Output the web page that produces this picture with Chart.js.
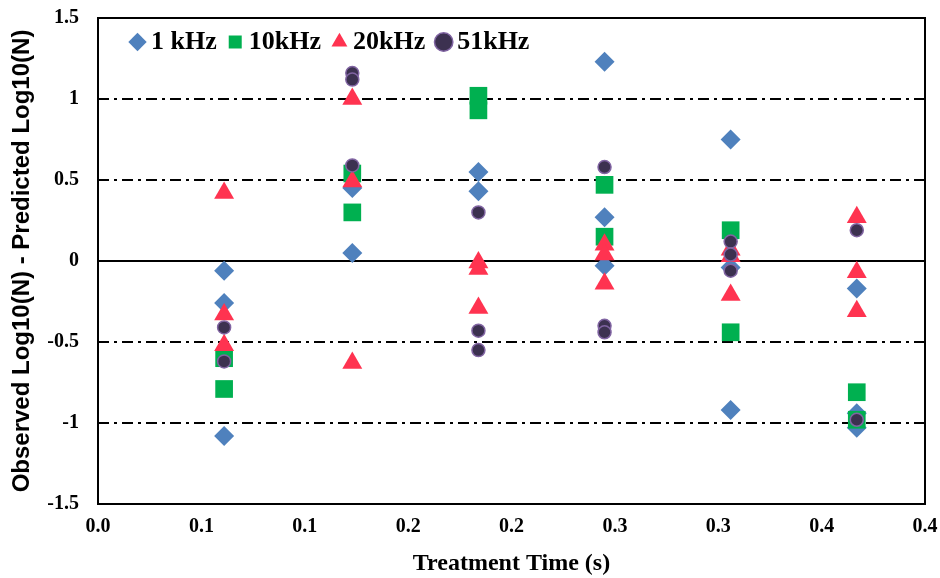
<!DOCTYPE html>
<html>
<head>
<meta charset="utf-8">
<script src="https://cdn.jsdelivr.net/npm/chart.js@4/dist/chart.umd.min.js"></script>
<style>
  html, body { margin: 0; padding: 0; background: #fff; }
  #wrap { width: 940px; height: 578px; }
</style>
</head>
<body>
<div id="wrap"><canvas id="scatterChart" width="940" height="578"></canvas></div>
<script>
// treatment times (x) where the points sit
const times = [0.061, 0.123, 0.184, 0.245, 0.306, 0.367];

// residuals per time, one list for each frequency
const khz1 = [[-0.06, -0.26, -1.08], [0.45, 0.05], [0.55, 0.43], [1.23, 0.27, -0.03], [0.75, -0.04, -0.92], [-0.17, -0.94, -1.03]];
const khz10 = [[-0.60, -0.79], [0.54, 0.30], [1.02, 0.93], [0.47, 0.15], [0.19, -0.44], [-0.81, -0.98]];
const khz20 = [[0.42, -0.33, -0.52], [1.00, 0.49, -0.63], [-0.01, -0.05, -0.29], [0.10, 0.04, -0.14], [0.07, 0.03, -0.21], [0.27, -0.07, -0.31]];
const khz51 = [[-0.41, -0.62], [1.16, 1.12, 0.59], [0.30, -0.43, -0.55], [0.58, -0.40, -0.44], [0.12, 0.04, -0.06], [0.19, -0.98]];

const seriesNames = ["1 kHz", "10kHz", "20kHz", "51kHz"];
const xTickLabels = ["0.0", "0.1", "0.1", "0.2", "0.2", "0.3", "0.3", "0.4", "0.4"];
const yTickLabels = ["-1.5", "-1", "-0.5", "0", "0.5", "1", "1.5"];
const dashLines = [1, 0.5, -0.5, -1];

function toPoints(cols) {
  const pts = [];
  cols.forEach((vals, i) => {
    vals.forEach((v) => pts.push({ x: times[i], y: v }));
  });
  return pts;
}

// dash-dot grid, solid zero line and the plot frame
const frameLines = {
  id: "frameLines",
  beforeDatasetsDraw(chart) {
    const ctx = chart.ctx;
    const area = chart.chartArea;
    const y = chart.scales.y;
    ctx.save();
    ctx.strokeStyle = "#000";
    ctx.lineWidth = 2;
    ctx.setLineDash([11, 5, 3, 5]);
    dashLines.forEach((v) => {
      const py = Math.round(y.getPixelForValue(v));
      ctx.beginPath();
      ctx.moveTo(area.left, py);
      ctx.lineTo(area.right, py);
      ctx.stroke();
    });
    ctx.setLineDash([]);
    const py0 = Math.round(y.getPixelForValue(0));
    ctx.beginPath();
    ctx.moveTo(area.left, py0);
    ctx.lineTo(area.right, py0);
    ctx.stroke();
    ctx.strokeRect(area.left, area.top, area.right - area.left, area.bottom - area.top);
    ctx.restore();
  },
  beforeLayout(chart) {
    // legend should not take room above the plot
    const lg = chart.legend;
    if (lg && !lg._noRoom) {
      const fit = lg.fit.bind(lg);
      lg.fit = function () {
        fit();
        this._fullHeight = this.height;
        this.height = 0;
      };
      lg._noRoom = true;
    }
  },
  afterLayout(chart) {
    // put the legend inside the plot, top left
    const lg = chart.legend;
    const a = chart.chartArea;
    lg.height = lg._fullHeight;
    lg.top = a.top - 7;
    lg.bottom = lg.top + lg.height;
    lg.left = a.left + 21;
    lg.right = a.right;
    lg.width = lg.right - lg.left;
  }
};

const ctx = document.getElementById("scatterChart").getContext("2d");
new Chart(ctx, {
  type: "scatter",
  data: {
    datasets: [
      {
        label: seriesNames[0],
        data: toPoints(khz1),
        pointStyle: "rectRot",
        pointRadius: 10,
        backgroundColor: "#4f81bd",
        borderColor: "#4f81bd",
        borderWidth: 0,
        order: 3,
      },
      {
        label: seriesNames[1],
        data: toPoints(khz10),
        pointStyle: "rect",
        pointRadius: 12.5,
        backgroundColor: "#00b050",
        borderColor: "#00b050",
        borderWidth: 0,
        order: 2,
      },
      {
        label: seriesNames[2],
        data: toPoints(khz20),
        pointStyle: "triangle",
        pointRadius: 11.5,
        backgroundColor: "#ff3350",
        borderColor: "#ff3350",
        borderWidth: 0,
        order: 1,
      },
      {
        label: seriesNames[3],
        data: toPoints(khz51),
        pointStyle: "circle",
        pointRadius: 6.5,
        backgroundColor: "#3c3150",
        borderColor: "#8064a2",
        borderWidth: 1.5,
        order: 0,
      },
    ],
  },
  options: {
    responsive: false,
    animation: false,
    layout: { autoPadding: false, padding: { top: 18, right: 15, left: 0, bottom: 0 } },
    plugins: {
      tooltip: { enabled: false },
      legend: {
        position: "top",
        align: "start",
        fullSize: false,
        labels: {
          usePointStyle: true,
          boxWidth: 1,
          boxHeight: 13,
          padding: 18,
          color: "#000",
          font: { family: "Liberation Serif", weight: "bold", size: 26 },
          sort: (a, b) => a.datasetIndex - b.datasetIndex,
        },
      },
    },
    scales: {
      x: {
        type: "linear",
        min: 0,
        max: 0.4,
        grid: { display: false, drawTicks: false },
        border: { display: false },
        ticks: {
          stepSize: 0.05,
          padding: 11,
          color: "#000",
          maxRotation: 0,
          font: { family: "Liberation Serif", weight: "bold", size: 20 },
          callback: (v, i) => xTickLabels[i],
        },
        title: {
          display: true,
          text: "Treatment Time (s)",
          color: "#000",
          padding: { top: 0, bottom: 0 },
          font: { family: "Liberation Serif", weight: "bold", size: 24 },
        },
        afterFit: (s) => {
          s.height = 74;
          s.paddingLeft = 0;
          s.paddingRight = 0;
        },
      },
      y: {
        min: -1.5,
        max: 1.5,
        grid: { display: false, drawTicks: false },
        border: { display: false },
        ticks: {
          stepSize: 0.5,
          padding: 19,
          color: "#000",
          font: { family: "Liberation Serif", weight: "bold", size: 20 },
          callback: (v, i) => yTickLabels[i],
        },
        title: {
          display: true,
          text: "Observed Log10(N) - Predicted Log10(N)",
          color: "#000",
          padding: { top: 8, bottom: 0 },
          font: { family: "Liberation Sans", weight: "bold", size: 24 },
        },
        afterFit: (s) => {
          s.width = 98;
          s.paddingTop = 0;
          s.paddingBottom = 0;
        },
      },
    },
  },
  plugins: [frameLines],
});
</script>
</body>
</html>
